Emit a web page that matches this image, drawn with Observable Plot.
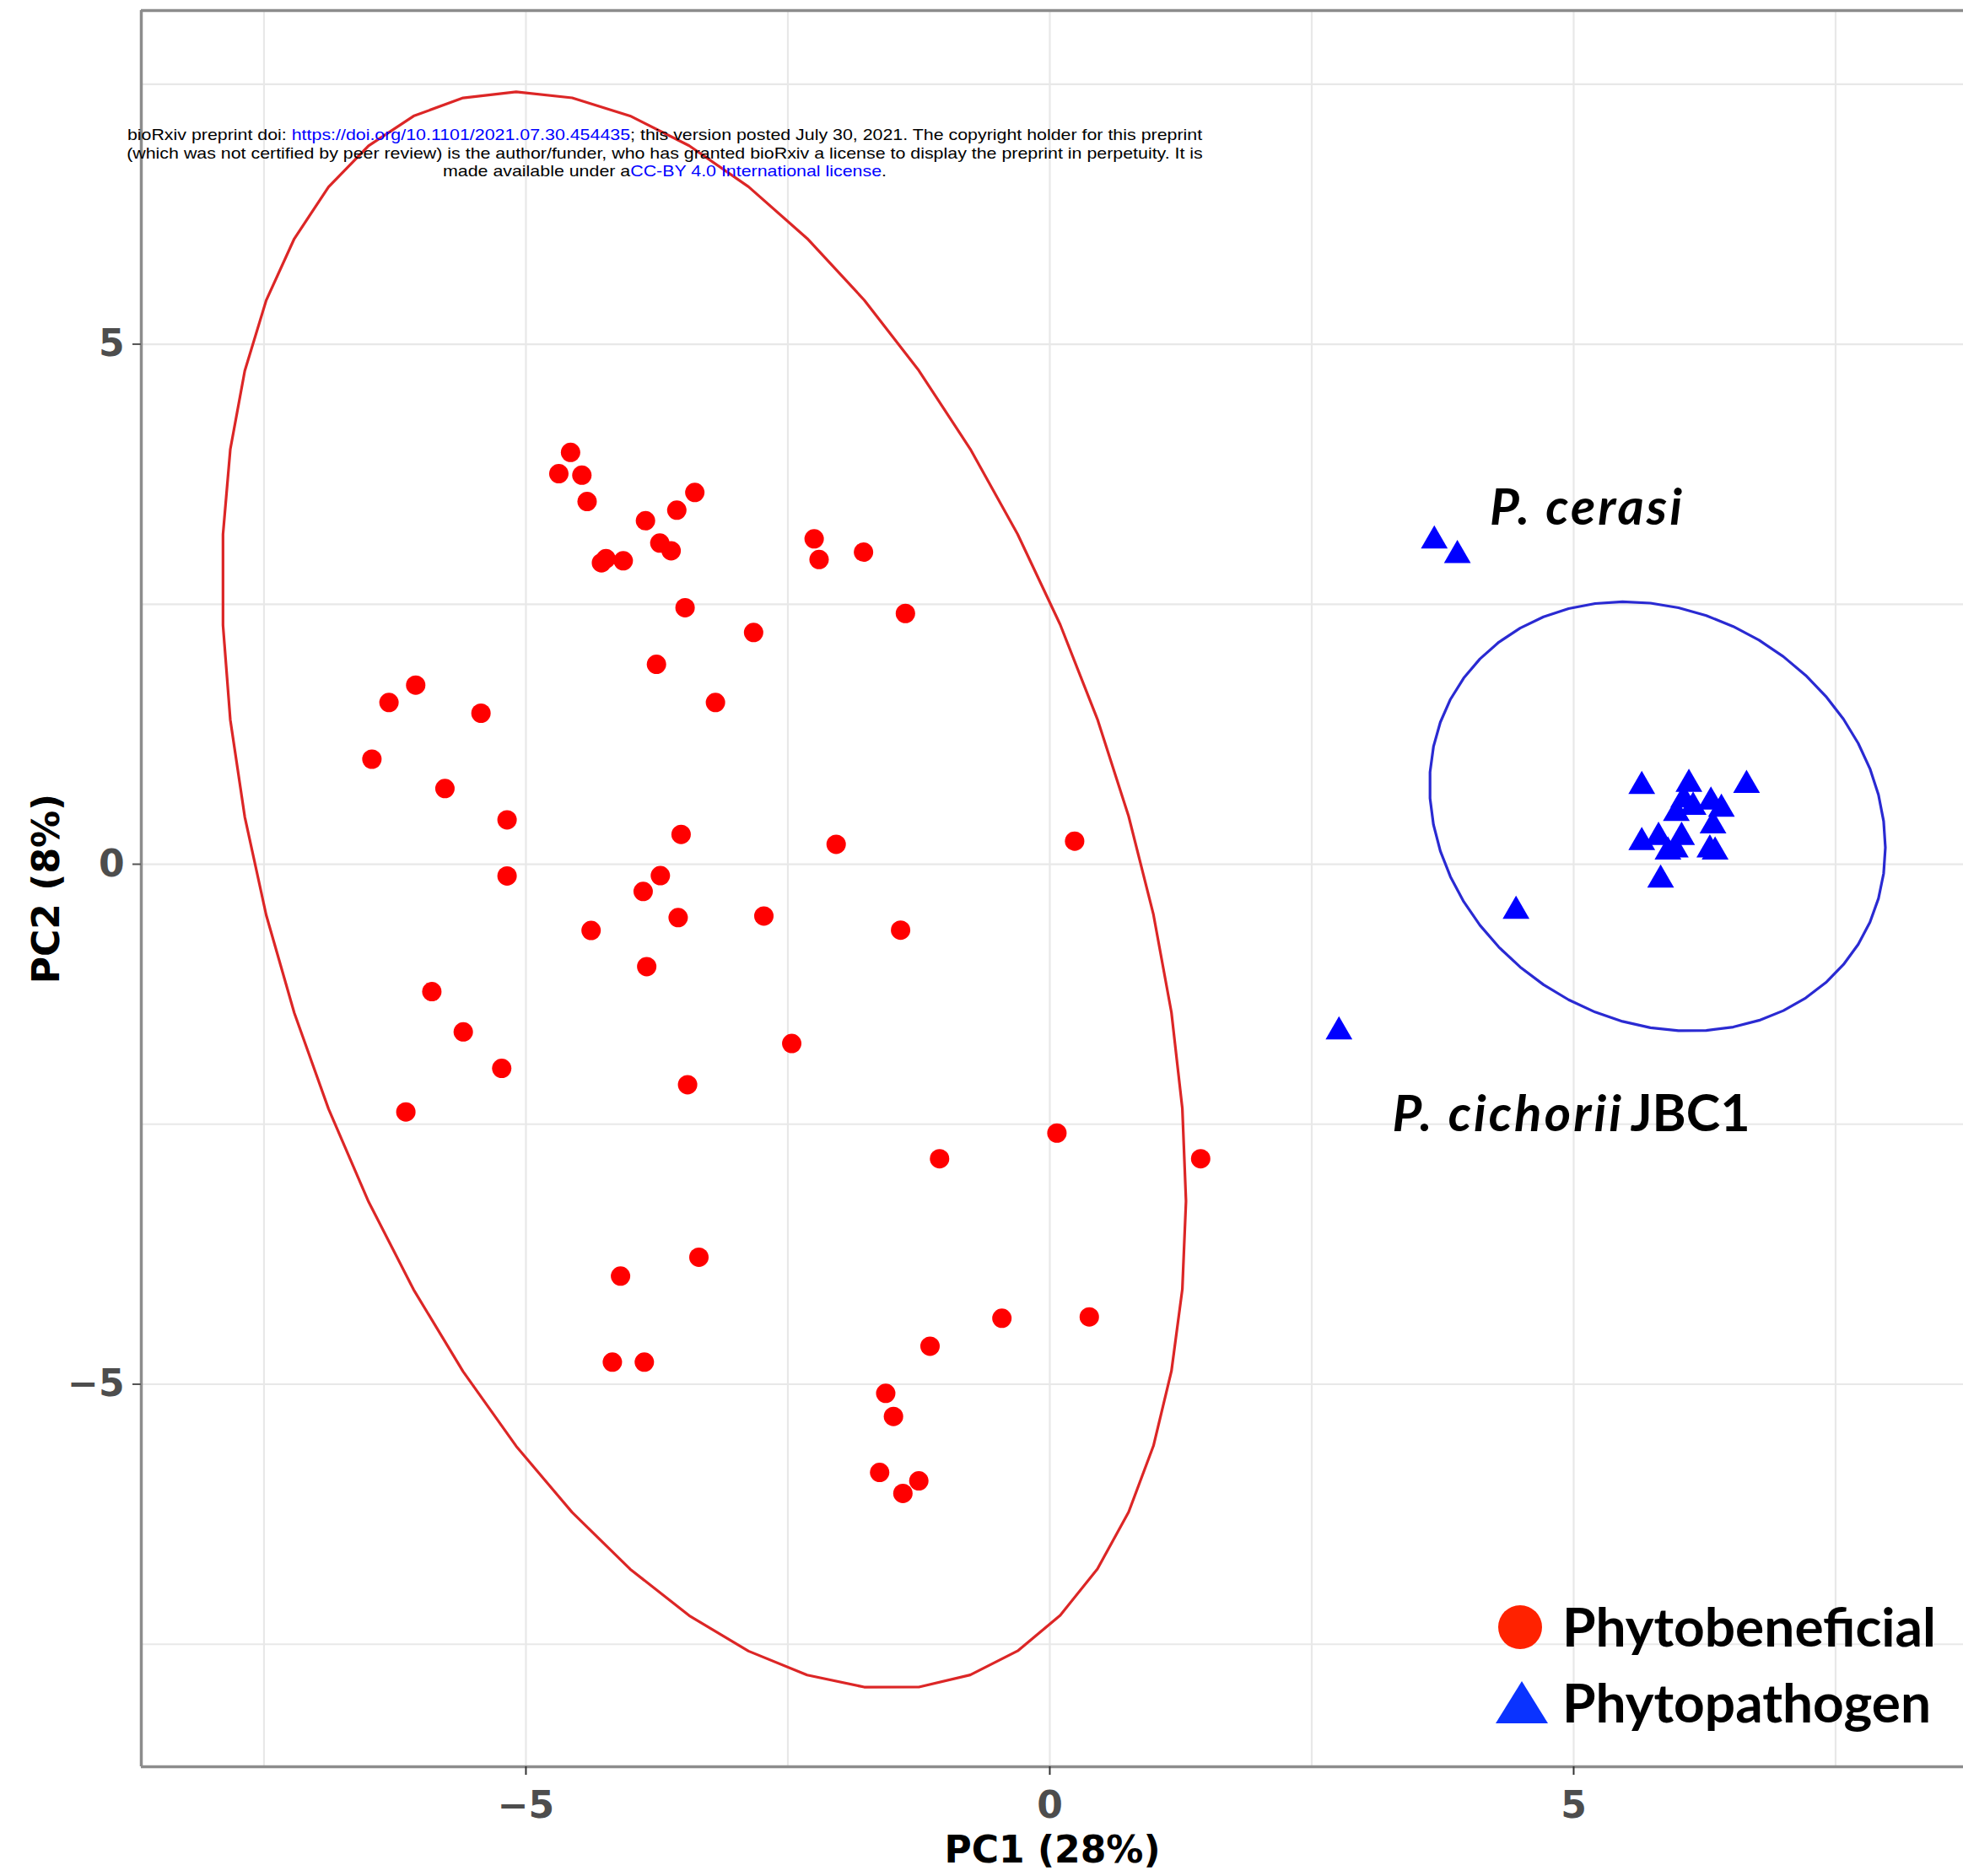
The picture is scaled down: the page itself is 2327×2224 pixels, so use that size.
<!DOCTYPE html>
<html><head><meta charset="utf-8">
<script src="https://cdn.jsdelivr.net/npm/d3@7"></script>
<script src="https://cdn.jsdelivr.net/npm/@observablehq/plot@0.6"></script>
<style>
body{margin:0;background:#fff}
#wrap{position:relative;width:2327px;height:2224px;overflow:hidden;background:#fff}
#wrap > svg{position:absolute;left:0;top:0}
.wm{position:absolute;left:0;width:1576px;top:149px;text-align:center;font-family:"Liberation Sans",Arial,sans-serif;font-size:19px;line-height:21.5px;color:#000;white-space:nowrap;transform:scaleX(1.125);transform-origin:788px 0}
.wm .b{color:#0000ff}
g[font-family*="Lato"][font-style="italic"] text{letter-spacing:3.1px}
</style></head>
<body><div id="wrap"></div>
<script>
// ---- data ----
const groups = ["Phytobeneficial", "Phytopathogen"];
const benPC1 = [-4.574,-4.686,-4.466,-4.416,-3.388,-3.560,-3.859,-3.722,-3.614,-4.279,
  -4.236,-4.071,-2.249,-2.202,-1.778,-3.481,-2.827,-1.378,-3.754,-3.191,
  -6.052,-6.307,-5.429,-6.470,-5.773,-5.180,-3.519,-2.039,0.237,-5.180,
  -3.717,-3.881,-3.547,-2.729,-4.378,-1.424,-3.847,-5.898,-5.598,-5.231,
  -2.463,-3.457,-6.146,0.068,-1.052,1.440,-3.349,-4.097,-0.457,0.377,
  -1.143,-4.175,-3.870,-1.566,-1.492,-1.624,-1.250,-1.402];
const benPC2 = [3.960,3.755,3.741,3.487,3.574,3.404,3.303,3.088,3.014,2.898,
  2.938,2.917,3.128,2.930,3.001,2.466,2.228,2.411,1.922,1.555,
  1.722,1.555,1.452,1.010,0.728,0.427,0.287,0.191,0.222,-0.113,
  -0.110,-0.262,-0.513,-0.498,-0.637,-0.634,-0.985,-1.225,-1.612,-1.963,
  -1.724,-2.120,-2.382,-2.585,-2.832,-2.832,-3.779,-3.960,-4.366,-4.353,
  -4.634,-4.788,-4.788,-5.088,-5.310,-5.848,-5.929,-6.050];
const patPC1 = [3.67,3.89,4.45,2.76,5.65,6.10,6.65,6.31,6.41,6.05,6.14,5.98,6.33,5.65,5.81,6.03,5.97,5.90,6.30,6.35,5.83];
const patPC2 = [3.11,2.97,-0.45,-1.61,0.75,0.77,0.76,0.60,0.53,0.62,0.55,0.49,0.37,0.21,0.26,0.26,0.14,0.12,0.14,0.12,-0.15];
// 95% ellipse: centre + Cholesky factor of the scaled covariance (as in ggplot stat_ellipse)
const benEllipse = {cx:-3.30, cy:-0.25, r11:4.60, r12:-2.99, r22:7.07};
const patEllipse = {cx:5.80, cy:0.46, r11:2.175, r12:-0.30, r22:2.042};
const majorTicks = [-5, 0, 5];
const minorTicks = [-7.5, -2.5, 2.5, 7.5];
const annotations = [
  {x:4.200, y:3.268, label:"P. cerasi", italic:true},
  {x:3.269, y:-2.563, label:"P. cichorii", italic:true},
  {x:5.539, y:-2.563, label:"JBC1", italic:false}
];
const xTitle = "PC1 (28%)", yTitle = "PC2 (8%)";

// ---- build ----
const ben = benPC1.map((x,i)=>({x, y:benPC2[i], g:groups[0]}));
const pat = patPC1.map((x,i)=>({x, y:patPC2[i], g:groups[1]}));
function ellipse(e){
  const n = 51;
  return d3.range(n+1).map(k=>{const t=2*Math.PI*k/n;
    return {x:e.cx+e.r11*Math.cos(t), y:e.cy+e.r12*Math.cos(t)+e.r22*Math.sin(t)};});
}
const fmt = d => d < 0 ? "\u2212" + Math.abs(d) : String(d);
const W = 2327, H = 2224;
const xDomain = [-8.671, 8.720], yDomain = [-8.678, 8.208];
const gridStyle = {stroke:"#e8e8e8", strokeOpacity:1, strokeWidth:2.2};
const borderStyle = {stroke:"#8c8c8c", strokeWidth:3.5};
const annoFont = "Lato, 'Open Sans', sans-serif";

const chart = Plot.plot({
  width: W, height: H,
  marginLeft: 167, marginTop: 12, marginRight: 0, marginBottom: 130,
  x: {domain: xDomain},
  y: {domain: yDomain},
  style: {fontFamily: "'DejaVu Sans', sans-serif", background: "white", overflow: "visible"},
  marks: [
    Plot.gridX(minorTicks, gridStyle),
    Plot.gridY(minorTicks, gridStyle),
    Plot.gridX(majorTicks, gridStyle),
    Plot.gridY(majorTicks, gridStyle),
    Plot.ruleX([xDomain[0]], borderStyle),
    Plot.ruleY([yDomain[0]], borderStyle),
    Plot.ruleY([yDomain[1]], borderStyle),
    Plot.axisX(majorTicks, {tickSize: 10, tickPadding: 19, fontSize: 44, fontWeight: "bold",
      tickFormat: fmt, fill: "#4d4d4d", stroke: "#333", strokeWidth: 2, label: null}),
    Plot.axisY(majorTicks, {tickSize: 10, tickPadding: 10, fontSize: 44, fontWeight: "bold",
      tickFormat: fmt, fill: "#4d4d4d", stroke: "#555", strokeWidth: 2, label: null}),
    Plot.text([xTitle], {text: d=>d, frameAnchor: "bottom", lineAnchor: "bottom", dy: 113,
      fontSize: 44, fontWeight: "bold", fill: "black"}),
    Plot.text([yTitle], {text: d=>d, frameAnchor: "left", lineAnchor: "middle", textAnchor: "middle",
      rotate: -90, dx: -112, fontSize: 44, fontWeight: "bold", fill: "black"}),
    Plot.line(ellipse(benEllipse), {x: "x", y: "y", stroke: "#dc2626", strokeWidth: 3.2}),
    Plot.line(ellipse(patEllipse), {x: "x", y: "y", stroke: "#2a2ad2", strokeWidth: 3.2}),
    Plot.dot(ben, {x: "x", y: "y", r: 11.5, fill: "#ff0000", symbol: "circle"}),
    Plot.dot(pat, {x: "x", y: "y", r: 11.8, fill: "#0000ff", symbol: "triangle"}),
    Plot.text(annotations.filter(d=>d.italic), {x: "x", y: "y", text: "label", textAnchor: "start",
      lineAnchor: "bottom", fontSize: 60, fontWeight: "bold", fontStyle: "italic",
      fontFamily: annoFont, fill: "black"}),
    Plot.text(annotations.filter(d=>!d.italic), {x: "x", y: "y", text: "label", textAnchor: "start",
      lineAnchor: "bottom", fontSize: 61, fontWeight: "bold",
      fontFamily: annoFont, fill: "black"})
  ]
});
const wrap = document.getElementById("wrap");
wrap.appendChild(chart);

// legend (overlay, inside panel bottom-right)
const leg = d3.create("svg").attr("width", W).attr("height", H)
  .style("position","absolute").style("left","0").style("top","0").style("pointer-events","none");
leg.append("circle").attr("cx", 1802).attr("cy", 1929).attr("r", 26).attr("fill", "#ff2200");
leg.append("path").attr("d", "M1804,1993L1835,2043L1773,2043Z").attr("fill", "#0a33ff");
groups.forEach((g,i)=>{
  leg.append("text").attr("x", 1852).attr("y", i===0 ? 1952 : 2042)
    .attr("font-family", annoFont).attr("font-weight", "bold").attr("font-size", 64)
    .attr("fill", "black").text(g);
});
wrap.appendChild(leg.node());

// bioRxiv watermark
const wm = document.createElement("div");
wm.className = "wm";
wm.innerHTML = 'bioRxiv preprint doi: <span class="b">https://doi.org/10.1101/2021.07.30.454435</span>; this version posted July 30, 2021. The copyright holder for this preprint<br>(which was not certified by peer review) is the author/funder, who has granted bioRxiv a license to display the preprint in perpetuity. It is<br>made available under a<span class="b">CC-BY 4.0 International license</span>.';
wrap.appendChild(wm);
</script>
</body></html>
